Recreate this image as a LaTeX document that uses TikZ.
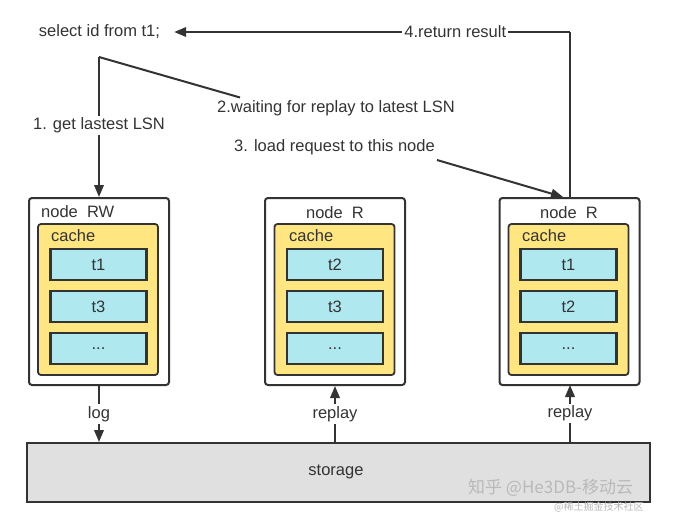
\documentclass[tikz,border=0pt]{standalone}
\usepackage{fontspec}
\setmainfont{Liberation Sans}
\newfontfamily\cjk{Noto Sans CJK SC}
\usetikzlibrary{arrows.meta}
\definecolor{lineC}{HTML}{333333}
\definecolor{cacheC}{HTML}{FFE680}
\definecolor{tabC}{HTML}{B0E8F0}
\definecolor{storC}{HTML}{E0E0E0}
\definecolor{txtC}{HTML}{333333}
\tikzset{
  outerbox/.style={draw=lineC, line width=2pt, rounded corners=3pt, fill=white, minimum width=140pt, minimum height=187pt, inner sep=0pt},
  cachebox/.style={draw=lineC, line width=1.8pt, rounded corners=3pt, fill=cacheC, minimum width=120pt, minimum height=151pt, inner sep=0pt},
  tabbox/.style={draw=lineC, line width=2.4pt, fill=tabC, minimum width=96pt, minimum height=31pt, inner sep=0pt, font=\fontsize{16.5}{19}\selectfont, text=txtC},
  txt/.style={font=\fontsize{16.5}{19}\selectfont, text=txtC, inner sep=1pt},
  lbl/.style={txt, fill=white, inner sep=2pt},
  conn/.style={draw=lineC, line width=2pt},
  arr/.style={conn, -{Triangle[length=12pt,width=9.5pt]}},
}
\begin{document}
\begin{tikzpicture}[x=1pt,y=-1pt]
\useasboundingbox (0,0) rectangle (681,517);
\fill[white] (0,0) rectangle (681,517);

% query
\node[txt, inner xsep=14pt] (sel) at (99.5,32) {select id from t1;};
\coordinate (split) at (99,57);

% node RW
\node[outerbox] (rw) at (99,291.5) {};
\node[cachebox] (rwc) at (98,299.5) {};
\node[txt, anchor=base west] (rwt) at (40,217) {node\ \ RW};
\node[txt, anchor=base west] (rwcl) at (50,241) {cache};
\node[tabbox] (rw1) at (98.5,264.5) {t1};
\node[tabbox] (rw2) at (98.5,306.5) {t3};
\node[tabbox] (rw3) at (98.5,348.5) {...};

% node R middle
\node[outerbox] (rm) at (335,291.5) {};
\node[cachebox] (rmc) at (334.5,299.5) {};
\node[txt, anchor=base] (rmt) at (335,218) {node\ \ R};
\node[txt, anchor=base west] (rmcl) at (288,241) {cache};
\node[tabbox] (rm1) at (335,264.5) {t2};
\node[tabbox] (rm2) at (335,306.5) {t3};
\node[tabbox] (rm3) at (335,348.5) {...};

% node R right
\node[outerbox] (rr) at (569.5,291.5) {};
\node[cachebox] (rrc) at (568.5,299.5) {};
\node[txt, anchor=base] (rrt) at (569,218) {node\ \ R};
\node[txt, anchor=base west] (rrcl) at (521,241) {cache};
\node[tabbox] (rr1) at (568.5,264.5) {t1};
\node[tabbox] (rr2) at (568.5,306.5) {t2};
\node[tabbox] (rr3) at (568.5,348.5) {...};

% storage
\node[draw=lineC, line width=2pt, fill=storC, minimum width=623pt, minimum height=59pt, inner sep=0pt] (st) at (338.5,472.5) {};
\node[txt] (stl) at (336,472) {storage};

% watermark
\node[font=\cjk\fontsize{17}{20}\selectfont, text=gray!55, anchor=west, inner sep=0pt] (wm1) at (468,488) {知乎 @He3DB-移动云};
\node[font=\cjk\fontsize{10}{12}\selectfont, text=gray!55, anchor=west, inner sep=0pt] (wm2) at (554,507) {@稀土掘金技术社区};

% 1. get latest LSN
\draw[arr] (split) -- node[lbl, pos=0.49] (l1) {1. get lastest LSN} (rw.north);

% 2. waiting
\node[txt] (l2) at (336,108) {2.waiting for replay to latest LSN};
\coordinate (e2) at (240,97.5);
\draw[conn] (split) -- (e2);

% 3. load request
\node[txt] (l3) at (334.5,147.5) {3. load request to this node};
\coordinate (s3) at (437,160);
\coordinate (e3) at (563,197);
\draw[arr] (s3) -- (e3);

% 4. return result
\coordinate (c4) at (570,32);
\draw[conn] (rr.north -| c4) -- (c4);
\draw[arr] (c4) -- node[lbl, pos=0.29] (l4) {4.return result} (sel.east);

% storage links
\draw[arr] (rw.south) -- node[lbl] (lg) {log} (st.north -| rw.south);
\draw[arr] (st.north -| rm.south) -- node[lbl] (rp1) {replay} (rm.south);
\coordinate (c5) at (570,385);
\draw[arr] (st.north -| c5) -- node[lbl] (rp2) {replay} (c5);
\end{tikzpicture}
\end{document}
